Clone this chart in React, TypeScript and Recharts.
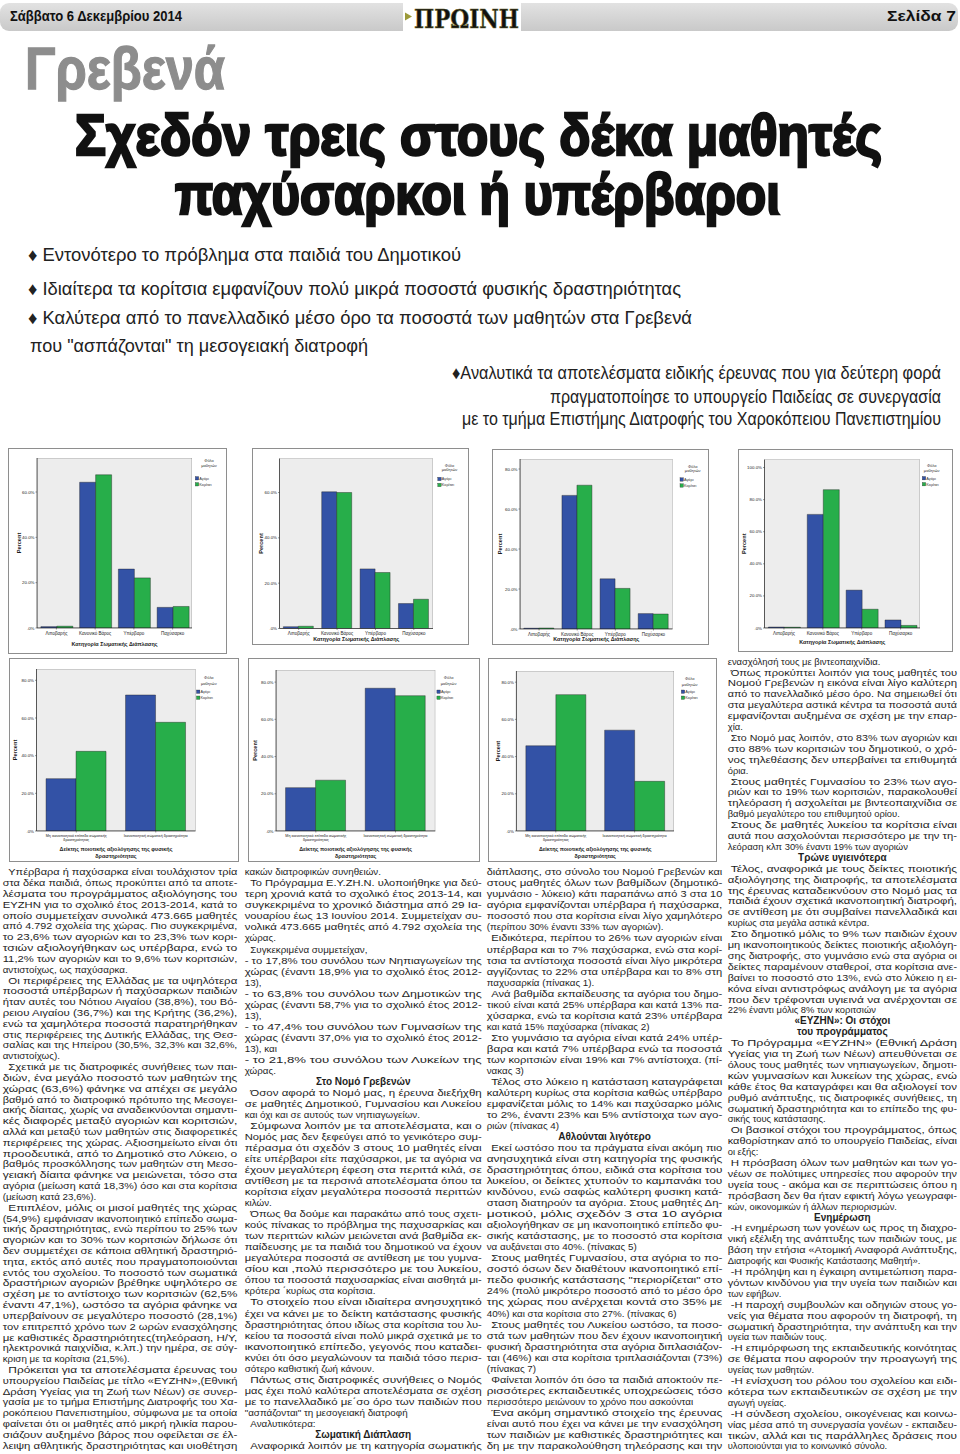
import React from 'react';
import { BarChart, Bar, XAxis, YAxis, CartesianGrid, Legend, ReferenceArea } from 'recharts';

const BLUE = '#3352a6';
const GREEN = '#27ae4a';
const FONT = '"Liberation Sans", Arial, Helvetica, sans-serif';

// ---------- chart data ----------
const bodyCategories = ['Λιποβαρής', 'Κανονικό Βάρος', 'Υπέρβαρο', 'Παχύσαρκο'];
const allBoys = [0.6, 64.3, 26.0, 9.1];
const allGirls = [0.8, 67.6, 22.1, 9.5];
const primBoys = [0.8, 60.3, 26.3, 11.0];
const primGirls = [1.0, 60.0, 24.7, 12.9];
const gymBoys = [0.4, 66.8, 25.1, 7.7];
const gymGirls = [0.5, 71.9, 20.3, 7.5];
const lycBoys = [0.6, 70.8, 23.6, 5.0];
const lycGirls = [0.5, 86.2, 11.7, 1.6];

const activityCategories = [
  'Μη ικανοποιητικό επίπεδο σωματικής δραστηριότητας',
  'Ικανοποιητική σωματική δραστηριότητα',
];
const actPrimBoys = [27.8, 72.2];
const actPrimGirls = [42.3, 57.7];
const actGymBoys = [23.3, 76.7];
const actGymGirls = [27.3, 72.7];
const actLycBoys = [45.8, 54.2];
const actLycGirls = [73.3, 26.7];

const ticks75 = [0, 20, 40, 60];
const ticks85 = [0, 20, 40, 60, 80];
const ticks105 = [0, 20, 40, 60, 80, 100];

const seriesNames = ['Αγόρι', 'Κορίτσι'];
const legendTitle = ['Φύλο', 'μαθητών'];
const bodyAxisTitle = ['Κατηγορία Σωματικής Διάπλασης'];
const activityAxisTitle = ['Δείκτης ποιοτικής αξιολόγησης της φυσικής', 'δραστηριότητας'];

const titleAll = 'Νομός: ΓΡΕΒΕΝΩΝ';
const titlePrim = 'Νομός: ΓΡΕΒΕΝΩΝ, Τύπος Σχολείου: Δημοτικό';
const titleGym = 'Νομός: ΓΡΕΒΕΝΩΝ, Τύπος Σχολείου: Γυμνάσιο';
const titleLyc = 'Νομός: ΓΡΕΒΕΝΩΝ, Τύπος Σχολείου: Λύκειο';

type Row = { cat: string; boys: number; girls: number };
const makeRows = (cats: string[], b: number[], g: number[]): Row[] =>
  cats.map((cat, i) => ({ cat, boys: b[i], girls: g[i] }));

type Cfg = {
  fx: number; fy: number; fw: number; fh: number;
  pl: number; pr: number; pt: number; pb: number;
  yMax: number; ticks: number[];
  title: string; titleCx: number; titleY: number;
  tickY: number; tickFs: number;
  xTitle: string[]; xTitleY: number[];
  yLabX: number;
  legTx: number; legTy: number[]; legSx: number; legSy: number[];
  data: Row[]; gap: string;
};

const charts: Cfg[] = [
  {
    fx: 8, fy: 448, fw: 219, fh: 206, pl: 37, pr: 192, pt: 458, pb: 628,
    yMax: 75, ticks: ticks75, title: titleAll, titleCx: 115, titleY: 455.7,
    tickY: 633.5, tickFs: 4.5, xTitle: bodyAxisTitle, xTitleY: [644.3], yLabX: 18.5,
    legTx: 209, legTy: [461, 465.7], legSx: 197, legSy: [478.3, 484.3],
    data: makeRows(bodyCategories, allBoys, allGirls), gap: '10%',
  },
  {
    fx: 252, fy: 448, fw: 217, fh: 197, pl: 279.5, pr: 433, pt: 458.5, pb: 628.5,
    yMax: 75, ticks: ticks75, title: titlePrim, titleCx: 371.5, titleY: 455.7,
    tickY: 633, tickFs: 4.5, xTitle: bodyAxisTitle, xTitleY: [638.6], yLabX: 261,
    legTx: 449.5, legTy: [465.7, 470], legSx: 439.5, legSy: [479, 485],
    data: makeRows(bodyCategories, primBoys, primGirls), gap: '10%',
  },
  {
    fx: 492, fy: 448.5, fw: 216.5, fh: 196, pl: 520, pr: 672.5, pt: 458.5, pb: 628.5,
    yMax: 85, ticks: ticks85, title: titleGym, titleCx: 614, titleY: 455.7,
    tickY: 633.5, tickFs: 4.5, xTitle: bodyAxisTitle, xTitleY: [638.8], yLabX: 500,
    legTx: 692.7, legTy: [465.7, 470], legSx: 681.7, legSy: [479, 485],
    data: makeRows(bodyCategories, gymBoys, gymGirls), gap: '10%',
  },
  {
    fx: 738, fy: 448.5, fw: 215, fh: 203.5, pl: 764.5, pr: 920, pt: 459, pb: 627.5,
    yMax: 105, ticks: ticks105, title: titleLyc, titleCx: 855, titleY: 455.7,
    tickY: 633.3, tickFs: 4.5, xTitle: bodyAxisTitle, xTitleY: [641.7], yLabX: 743.5,
    legTx: 931.7, legTy: [465, 470], legSx: 924, legSy: [477.7, 483.7],
    data: makeRows(bodyCategories, lycBoys, lycGirls), gap: '10%',
  },
  {
    fx: 8.5, fy: 658, fw: 230, fh: 204, pl: 36, pr: 195, pt: 669, pb: 831,
    yMax: 86, ticks: ticks85, title: titlePrim, titleCx: 131, titleY: 666.7,
    tickY: 835.3, tickFs: 3.7, xTitle: activityAxisTitle, xTitleY: [849.3, 856.3], yLabX: 14.5,
    legTx: 208.3, legTy: [677.3, 684], legSx: 197.7, legSy: [691.7, 697.7],
    data: makeRows(activityCategories, actPrimBoys, actPrimGirls), gap: '12%',
  },
  {
    fx: 247.7, fy: 658, fw: 232, fh: 204, pl: 275.7, pr: 435, pt: 670, pb: 831,
    yMax: 86.5, ticks: ticks85, title: titleGym, titleCx: 372.3, titleY: 666.7,
    tickY: 835.3, tickFs: 3.7, xTitle: activityAxisTitle, xTitleY: [849.3, 856.3], yLabX: 254.3,
    legTx: 448.3, legTy: [677.3, 684], legSx: 438.3, legSy: [691.7, 697.7],
    data: makeRows(activityCategories, actGymBoys, actGymGirls), gap: '12%',
  },
  {
    fx: 488.3, fy: 658, fw: 228.4, fh: 204, pl: 516.7, pr: 674.3, pt: 671, pb: 831,
    yMax: 86, ticks: ticks85, title: titleLyc, titleCx: 617.3, titleY: 668.3,
    tickY: 835.3, tickFs: 3.7, xTitle: activityAxisTitle, xTitleY: [849.3, 856.3], yLabX: 498.3,
    legTx: 690, legTy: [679, 684.3], legSx: 683.3, legSy: [691.7, 697.7],
    data: makeRows(activityCategories, actLycBoys, actLycGirls), gap: '12%',
  },
];

function wrapLabel(s: string, max: number): string[] {
  const words = s.split(' ');
  const out: string[] = [];
  let cur = '';
  for (const w of words) {
    const t = cur ? cur + ' ' + w : w;
    if (t.length > max && cur) { out.push(cur); cur = w; } else cur = t;
  }
  if (cur) out.push(cur);
  return out;
}

const pctFmt = (v: number) => (v === 0 ? '.0%' : `${v.toFixed(1)}%`);

function SpssChart({ c }: { c: Cfg }) {
  const ox = c.fx + 1;
  const oy = c.fy + 1;
  const w = c.fw - 2;
  const h = c.fh - 2;
  const yW = c.pl - ox;
  const mRight = ox + w - c.pr;
  const mTop = c.pt - oy;
  const xH = oy + h - c.pb;
  const plotMidY = (c.pt + c.pb) / 2 - oy;
  return (
    <div style={{ position: 'absolute', left: c.fx, top: c.fy, width: c.fw, height: c.fh, border: '1px solid #8e8e8e', boxSizing: 'border-box', background: '#fff' }}>
      <BarChart width={w} height={h} data={c.data} margin={{ top: mTop, right: mRight, bottom: 0, left: 0 }} barCategoryGap={c.gap} barGap={0}>
        <CartesianGrid fill="#ececec" fillOpacity={1} stroke="#ececec" strokeOpacity={0} horizontal vertical={false} />
        <ReferenceArea y1={0} y2={c.yMax} fill="#ededed" fillOpacity={1} stroke="#666" strokeWidth={0.5} ifOverflow="hidden" />
        <XAxis
          dataKey="cat" height={xH} interval={0} tickSize={1.5}
          tickLine={{ stroke: '#333', strokeWidth: 0.5 }}
          axisLine={{ stroke: '#222', strokeWidth: 0.7 }}
          tick={(p: any) => {
            const lines = wrapLabel(String(p.payload.value), 36);
            return (
              <text x={p.x} y={c.tickY - oy + c.tickFs * 0.35} textAnchor="middle" fontSize={c.tickFs} fill="#222" fontFamily={FONT}>
                {lines.map((l, i) => (
                  <tspan key={i} x={p.x} dy={i === 0 ? 0 : c.tickFs * 1.15}>{l}</tspan>
                ))}
              </text>
            );
          }}
          label={{
            content: () => (
              <text textAnchor="middle" fontSize={5.4} fontWeight="bold" fill="#1a1a1a" fontFamily={FONT}>
                {c.xTitle.map((t, i) => (
                  <tspan key={i} x={(c.pl + c.pr) / 2 - ox} y={c.xTitleY[i] - oy + 1.9}>{t}</tspan>
                ))}
              </text>
            ),
          }}
        />
        <XAxis
          xAxisId="top" dataKey="cat" orientation="top" height={0} tick={false} tickLine={false}
          axisLine={{ stroke: '#555', strokeWidth: 0.5 }}
          label={{
            content: () => (
              <text x={c.titleCx - ox} y={c.titleY - oy + 1.8} textAnchor="middle" fontSize={5} fontWeight="bold" fill="#1a1a1a" fontFamily={FONT}>
                {c.title}
              </text>
            ),
          }}
        />
        <YAxis
          width={yW} domain={[0, c.yMax]} ticks={c.ticks} allowDataOverflow interval={0}
          tickFormatter={pctFmt} tickSize={1.5} tickMargin={1}
          tick={{ fontSize: 4.4, fill: '#222', fontFamily: FONT }}
          tickLine={{ stroke: '#333', strokeWidth: 0.5 }}
          axisLine={{ stroke: '#222', strokeWidth: 0.7 }}
          label={{
            content: () => (
              <text
                x={c.yLabX - ox} y={plotMidY}
                transform={`rotate(-90 ${c.yLabX - ox} ${plotMidY})`}
                textAnchor="middle" dominantBaseline="central"
                fontSize={5.6} fontWeight="bold" fill="#1a1a1a" fontFamily={FONT}
              >
                Percent
              </text>
            ),
          }}
        />
        <YAxis yAxisId="r" orientation="right" width={0} domain={[0, c.yMax]} allowDataOverflow tick={false} tickLine={false} axisLine={{ stroke: '#555', strokeWidth: 0.5 }} />
        <Legend
          layout="vertical" align="center" verticalAlign="middle"
          wrapperStyle={{ left: 0, top: 0, width: w, height: h, pointerEvents: 'none' }}
          content={(lp: any) => (
            <svg width={w} height={h} style={{ display: 'block' }}>
              {legendTitle.map((t, i) => (
                <text key={t} x={c.legTx - ox} y={c.legTy[i] - oy + 1.4} textAnchor="middle" fontSize={4} fill="#333" fontFamily={FONT}>{t}</text>
              ))}
              {(lp.payload || []).map((it: any, i: number) => (
                <g key={i}>
                  <rect x={c.legSx - ox - 1.7} y={c.legSy[i] - oy - 1.7} width={3.4} height={3.4} fill={it.color} stroke="#222" strokeWidth={0.3} />
                  <text x={c.legSx - ox + 2.3} y={c.legSy[i] - oy + 1.4} fontSize={3.8} fill="#333" fontFamily={FONT}>{it.value}</text>
                </g>
              ))}
            </svg>
          )}
        />
        <Bar dataKey="boys" name={seriesNames[0]} fill={BLUE} stroke="#1c1c1c" strokeWidth={0.4} isAnimationActive={false} />
        <Bar dataKey="girls" name={seriesNames[1]} fill={GREEN} stroke="#1c1c1c" strokeWidth={0.4} isAnimationActive={false} />
      </BarChart>
    </div>
  );
}

// ---------- page text ----------
const bullets = [
  { t: '♦ Εντονότερο το πρόβλημα στα παιδιά του Δημοτικού', x: 28, y: 261, w: 433 },
  { t: '♦ Ιδιαίτερα τα κορίτσια εμφανίζουν πολύ μικρά ποσοστά φυσικής δραστηριότητας', x: 28, y: 295, w: 653 },
  { t: '♦ Καλύτερα από το πανελλαδικό μέσο όρο τα ποσοστά των μαθητών στα Γρεβενά', x: 28, y: 324, w: 664 },
  { t: 'που "ασπάζονται" τη μεσογειακή διατροφή', x: 30, y: 352, w: 338 },
  { t: '♦Αναλυτικά τα αποτελέσματα ειδικής έρευνας που για δεύτερη φορά', x: 452, y: 379, w: 489 },
  { t: 'πραγματοποίησε το υπουργείο Παιδείας σε συνεργασία', x: 550, y: 403, w: 391 },
  { t: 'με το τμήμα Επιστήμης Διατροφής του Χαροκόπειου Πανεπιστημίου', x: 462, y: 425, w: 479 },
];

// ¶ = indented paragraph start, ¬ = paragraph start without indent, # = centered bold heading
const col1 = [
  '¶Υπέρβαρα ή παχύσαρκα είναι τουλάχιστον τρία',
  'στα δέκα παιδιά, όπως προκύπτει από τα αποτε-',
  'λέσματα του προγράμματος αξιολόγησης του',
  'ΕΥΖΗΝ για το σχολικό έτος 2013-2014, κατά το',
  'οποίο συμμετείχαν συνολικά 473.665 μαθητές',
  'από 4.792 σχολεία της χώρας. Πιο συγκεκριμένα,',
  'το 23,6% των αγοριών και το 23,3% των κορι-',
  'τσιών αξιολογήθηκαν ως υπέρβαρα, ενώ το',
  '11,2% των αγοριών και το 9,6% των κοριτσιών,',
  'αντιστοίχως, ως παχύσαρκα.',
  '¶Οι περιφέρειες της Ελλάδας με τα υψηλότερα',
  'ποσοστά υπέρβαρων ή παχύσαρκων παιδιών',
  'ήταν αυτές του Νότιου Αιγαίου (38,8%), του Βό-',
  'ρειου Αιγαίου (36,7%) και της Κρήτης (36,2%),',
  'ενώ τα χαμηλότερα ποσοστά παρατηρήθηκαν',
  'στις περιφέρειες της Δυτικής Ελλάδας, της Θεσ-',
  'σαλίας και της Ηπείρου (30,5%, 32,3% και 32,6%,',
  'αντιστοίχως).',
  '¶Σχετικά με τις διατροφικές συνήθειες των παι-',
  'διών, ένα μεγάλο ποσοστό των μαθητών της',
  'χώρας (63,6%) φάνηκε να απέχει σε μεγάλο',
  'βαθμό από το διατροφικό πρότυπο της Μεσογει-',
  'ακής δίαιτας, χωρίς να αναδεικνύονται σημαντι-',
  'κές διαφορές μεταξύ αγοριών και κοριτσιών,',
  'αλλά και μεταξύ των μαθητών στις διαφορετικές',
  'περιφέρειες της χώρας. Αξιοσημείωτο είναι ότι',
  'προοδευτικά, από το Δημοτικό στο Λύκειο, ο',
  'βαθμός προσκόλλησης των μαθητών στη Μεσο-',
  'γειακή δίαιτα φάνηκε να μειώνεται, τόσο στα',
  'αγόρια (μείωση κατά 18,3%) όσο και στα κορίτσια',
  '(μείωση κατά 23,6%).',
  '¶Επιπλέον, μόλις οι μισοί μαθητές της χώρας',
  '(54,9%) εμφάνισαν ικανοποιητικό επίπεδο σωμα-',
  'τικής δραστηριότητας, ενώ περίπου το 25% των',
  'αγοριών και το 30% των κοριτσιών δήλωσε ότι',
  'δεν συμμετέχει σε κάποια αθλητική δραστηριό-',
  'τητα, εκτός από αυτές που πραγματοποιούνται',
  'εντός του σχολείου. Το ποσοστό των σωματικά',
  'δραστήριων αγοριών βρέθηκε υψηλότερο σε',
  'σχέση με το αντίστοιχο των κοριτσιών (62,5%',
  'έναντι 47,1%), ωστόσο τα αγόρια φάνηκε να',
  'υπερβαίνουν σε μεγαλύτερο ποσοστό (28,1%)',
  'τον επιτρεπτό χρόνο των 2 ωρών ενασχόλησης',
  'με καθιστικές δραστηριότητες(τηλεόραση, Η/Υ,',
  'ηλεκτρονικά παιχνίδια, κ.λπ.) την ημέρα, σε σύγ-',
  'κριση με τα κορίτσια (21,5%).',
  '¶Πρόκειται για τα αποτελέσματα έρευνας του',
  'υπουργείου Παιδείας με τίτλο «ΕΥΖΗΝ»,(Εθνική',
  'Δράση Υγείας για τη Ζωή των Νέων) σε συνερ-',
  'γασία με το τμήμα Επιστήμης Διατροφής του Χα-',
  'ροκόπειου Πανεπιστημίου, σύμφωνα με τα οποία',
  'φαίνεται ότι οι μαθητές από μικρή ηλικία παρου-',
  'σιάζουν αυξημένο βάρος που οφείλεται σε έλ-',
  'λειψη αθλητικής δραστηριότητας και υιοθέτηση',
];

const col2 = [
  'κακών διατροφικών συνηθειών.',
  '¶Το Πρόγραμμα Ε.Υ.ΖΗ.Ν. υλοποιήθηκε για δεύ-',
  'τερη χρονιά κατά το σχολικό έτος 2013-14, και',
  'συγκεκριμένα το χρονικό διάστημα από 29 Ια-',
  'νουαρίου έως 13 Ιουνίου 2014. Συμμετείχαν συ-',
  'νολικά 473.665 μαθητές από 4.792 σχολεία της',
  'χώρας.',
  '¶Συγκεκριμένα συμμετείχαν,',
  '¬ - το 17,8% του συνόλου των Νηπιαγωγείων της',
  'χώρας (έναντι 18,9% για το σχολικό έτος 2012-',
  '13),',
  '¬ - το 63,8% του συνόλου των Δημοτικών της',
  'χώρας (έναντι 58,7% για το σχολικό έτος 2012-',
  '13),',
  '¬ - το 47,4% του συνόλου των Γυμνασίων της',
  'χώρας (έναντι 37,0% για το σχολικό έτος 2012-',
  '13), και',
  '¬ - το 21,8% του συνόλου των Λυκείων της',
  'χώρας.',
  '#Στο Νομό Γρεβενών',
  '¶Όσον αφορά το Νομό μας, η έρευνα διεξήχθη',
  'σε μαθητές Δημοτικού, Γυμνασίου και Λυκείου',
  'και όχι και σε αυτούς των νηπιαγωγείων.',
  '¶Σύμφωνα λοιπόν με τα αποτελέσματα, και ο',
  'Νομός μας δεν ξεφεύγει από το γενικότερο συμ-',
  'πέρασμα ότι σχεδόν 3 στους 10 μαθητές είναι',
  'είτε υπέρβαροι είτε παχύσαρκοι, με τα αγόρια να',
  'έχουν μεγαλύτερη έφεση στα περιττά κιλά, σε',
  'αντίθεση με τα περσινά αποτελέσματα όπου τα',
  'κορίτσια είχαν μεγαλύτερα ποσοστά περιττών',
  'κιλών.',
  '¶Όπως θα δούμε και παρακάτω από τους σχετι-',
  'κούς πίνακας το πρόβλημα της παχυσαρκίας και',
  'των περιττών κιλών μειώνεται ανά βαθμίδα εκ-',
  'παίδευσης με τα παιδιά του δημοτικού να έχουν',
  'μεγαλύτερα ποσοστά σε αντίθεση με του γυμνα-',
  'σίου και ,πολύ περισσότερο με του λυκείου,',
  'όπου τα ποσοστά παχυσαρκίας είναι αισθητά μι-',
  'κρότερα ΄κυρίως στα κορίτσια.',
  '¶Το στοιχείο που είναι ιδιαίτερα ανησυχητικό',
  'έχει να κάνει με το δείκτη κατάστασης φυσικής',
  'δραστηριότητας όπου ιδίως στα κορίτσια του λυ-',
  'κείου τα ποσοστά είναι πολύ μικρά σχετικά με το',
  'ικανοποιητικό επίπεδο, γεγονός που καταδει-',
  'κνύει ότι όσο μεγαλώνουν τα παιδιά τόσο περισ-',
  'σότερο καθιστική ζωή κάνουν.',
  '¶Πάντως στις διατροφικές συνήθειες ο Νομός',
  'μας έχει πολύ καλύτερα αποτελέσματα σε σχέση',
  'με το πανελλαδικό με΄σο όρο των παιδιών που',
  '"ασπάζονται" τη μεσογειακή διατροφή',
  '¶Αναλυτικότερα:',
  '#Σωματική Διάπλαση',
  '¶Αναφορικά λοιπόν με τη κατηγορία σωματικής',
];

const col3 = [
  'διάπλασης, στο σύνολο του Νομού Γρεβενών και',
  'στους μαθητές όλων των βαθμίδων (δημοτικό-',
  'γυμνάσιο - λύκειο) κάτι παραπάνω από 3 στα 10',
  'αγόρια εμφανίζονται υπέρβαρα ή παχύσαρκα,',
  'ποσοστό που στα κορίτσια είναι λίγο χαμηλότερο',
  '(περίπου 30% έναντι 33% των αγοριών).',
  '¶ Ειδικότερα, περίπου το 26% των αγοριών είναι',
  'υπέρβαρα και το 7% παχύσαρκα, ενώ στα κορί-',
  'τσια τα αντίστοιχα ποσοστά είναι λίγο μικρότερα',
  'αγγίζοντας το 22% στα υπέρβαρα και το 8% στη',
  'παχυσαρκία (πίνακας 1).',
  '¶Ανά βαθμίδα εκπαίδευσης τα αγόρια του δημο-',
  'τικού είναι κατά 25% υπέρβαρα και κατά 13% πα-',
  'χύσαρκα, ενώ τα κορίτσια κατά 23% υπέρβαρα',
  'και κατά 15% παχύσαρκα (πίνακας 2)',
  '¶Στο γυμνάσιο τα αγόρια είναι κατά 24% υπέρ-',
  'βαρα και κατά 7% υπέρβαρα ενώ τα ποσοστά',
  'των κοριτσιών είναι 19% και 7% αντίστοιχα. (πί-',
  'νακας 3)',
  '¶Τέλος στο λύκειο η κατάσταση καταγράφεται',
  'καλύτερη κυρίως στα κορίτσια καθώς υπέρβαρο',
  'εμφανίζεται μόλις το 14% και παχύσαρκο μόλις',
  'το 2%, έναντι 23% και 5% αντίστοιχα των αγο-',
  'ριών (πίνακας 4)',
  '#Αθλούνται λιγότερο',
  '¶Εκεί ωστόσο που τα πράγματα είναι ακόμη πιο',
  'ανησυχητικά είναι στη κατηγορία της φυσικής',
  'δραστηριότητας όπου, ειδικά στα κορίτσια του',
  'λυκείου, οι δείκτες χτυπούν το καμπανάκι του',
  'κινδύνου, ενώ σαφώς καλύτερη φυσικη κατά-',
  'σταση διατηρούν τα αγόρια. Στους μαθητές Δη-',
  'μοτικού, μόλις σχεδόν 3 στα 10 αγόρια',
  'αξιολογήθηκαν σε μη ικανοποιητικό επίπεδο φυ-',
  'σικής κατάστασης, με το ποσοστό στα κορίτσια',
  'να αυξάνεται στο 40%. (πίνακας 5)',
  '¶Στους μαθητές Γυμνασίου, στα αγόρια το πο-',
  'σοστό όσων δεν διαθέτουν ικανοποιητικό επί-',
  'πεδο φυσικής κατάστασης "περιορίζεται" στο',
  '24% (πολύ μικρότερο ποσοστό από το μέσο όρο',
  'της χώρας που ανέρχεται κοντά στο 35% με',
  '40%) και στα κορίτσια στο 27%. (πίνακας 6)',
  '¶Στους μαθητές του Λυκείου ωστόσο, τα ποσο-',
  'στά των μαθητών που δεν έχουν ικανοποιητική',
  'φυσική δραστηριότητα στα αγόρια διπλασιάζον-',
  'ται (46%) και στα κορίτσια τριπλασιάζονται (73%)',
  '(πίνακας 7)',
  '¶Φαίνεται λοιπόν ότι όσο τα παιδιά αποκτούν πε-',
  'ρισσότερες εκπαιδευτικές υποχρεώσεις τόσο',
  'περισσότερο μειώνουν το χρόνο που ασκούνται',
  '¶Ένα ακόμη σημαντικό στοιχείο της έρευνας',
  'είναι αυτό που έχει να κάνει με την ενασχόληση',
  'των παιδιών με καθιστικές δραστηριότητες και',
  'δη με την παρακολούθηση τηλεόρασης και την',
];

const col4 = [
  'ενασχόλησή τους με βιντεοπαιχνίδια.',
  '¶Όπως προκύπτει λοιπόν για τους μαθητές του',
  'Νομού Γρεβενών η εικόνα είναι λίγο καλύτερη',
  'από το πανελλαδικό μέσο όρο. Να σημειωθεί ότι',
  'στα μεγαλύτερα αστικά κέντρα τα ποσοστά αυτά',
  'εμφανίζονται αυξημένα σε σχέση με την επαρ-',
  'χία.',
  '¶Στο Νομό μας λοιπόν, στο 83% των αγοριών και',
  'στο 88% των κοριτσιών του δημοτικού, ο χρό-',
  'νος τηλεθέασης δεν υπερβαίνει τα επιθυμητά',
  'όρια.',
  '¶ Στους μαθητές Γυμνασίου το 23% των αγο-',
  'ριών και το 19% των κοριτσιών, παρακολουθεί',
  'τηλεόραση ή ασχολείται με βιντεοπαιχνίδια σε',
  'βαθμό μεγαλύτερο του επιθυμητού ορίου.',
  '¶Στους δε μαθητές λυκείου τα κορίτσια είναι',
  'αυτά που ασχολούνται περισσότερο με την τη-',
  'λεόραση κλπ 30% έναντι 19% των αγοριών',
  '#Τρώνε υγιεινότερα',
  '¶Τέλος, αναφορικά με τους δείκτες ποιοτικής',
  'αξιολόγησης της διατροφής, τα αποτελέσματα',
  'της έρευνας καταδεικνύουν στο Νομό μας τα',
  'παιδιά έχουν σχετικά ικανοποιητική διατροφή,',
  'σε αντίθεση με ότι συμβαίνει πανελλαδικά και',
  'κυρίως στα μεγάλα αστικά κέντρα.',
  '¶Στο δημοτικό μόλις το 9% των παιδιών έχουν',
  'μη ικανοποιητικούς δείκτες ποιοτικής αξιολόγη-',
  'σης διατροφής, στο γυμνάσιο ενώ στα αγόρια οι',
  'δείκτες παραμένουν σταθεροί, στα κορίτσια ανε-',
  'βαίνει το ποσοστό στο 13%, ενώ στο λύκειο η ει-',
  'κόνα είναι αντιστρόφως ανάλογη με τα αγόρια',
  'που δεν τρέφονται υγιεινά να ανέρχονται σε',
  '22% έναντι μόλις 8% των κοριτσιών',
  '#«ΕΥΖΗΝ»: Οι στόχοι',
  '#του προγράμματος',
  '¶Το Πρόγραμμα «ΕΥΖΗΝ» (Εθνική Δράση',
  'Υγείας για τη Ζωή των Νέων) απευθύνεται σε',
  'όλους τους μαθητές των νηπιαγωγείων, δημοτι-',
  'κών γυμνασίων και λυκείων της χώρας, ενώ',
  'κάθε έτος θα καταγράφει και θα αξιολογεί τον',
  'ρυθμό ανάπτυξης, τις διατροφικές συνήθειες, τη',
  'σωματική δραστηριότητα και το επίπεδο της φυ-',
  'σικής τους κατάστασης.',
  '¶ Οι βασικοί στόχοι του προγράμματος, όπως',
  'καθορίστηκαν από το υπουργείο Παιδείας, είναι',
  'οι εξής:',
  '¶Η πρόσβαση όλων των μαθητών και των γο-',
  'νέων σε πολύτιμες υπηρεσίες που αφορούν την',
  'υγεία τους - ακόμα και σε περιπτώσεις όπου η',
  'πρόσβαση δεν θα ήταν εφικτή λόγω γεωγραφι-',
  'κών, οικονομικών ή άλλων περιορισμών.',
  '#Ενημέρωση',
  '¶-Η ενημέρωση των γονέων ως προς τη διαχρο-',
  'νική εξέλιξη της ανάπτυξης των παιδιών τους, με',
  'βάση την ετήσια «Ατομική Αναφορά Ανάπτυξης,',
  'Διατροφής και Φυσικής Κατάστασης Μαθητή».',
  '¶-Η πρόληψη και η έγκαιρη αντιμετώπιση παρα-',
  'γόντων κινδύνου για την υγεία των παιδιών και',
  'των εφήβων.',
  '¶-Η παροχή συμβουλών και οδηγιών στους γο-',
  'νείς για θέματα που αφορούν τη διατροφή, τη',
  'σωματική δραστηριότητα, την ανάπτυξη και την',
  'υγεία των παιδιών τους.',
  '¶-Η επιμόρφωση της εκπαιδευτικής κοινότητας',
  'σε θέματα που αφορούν την προαγωγή της',
  'υγείας των μαθητών.',
  '¶-Η ενίσχυση του ρόλου του σχολείου και ειδι-',
  'κότερα των εκπαιδευτικών σε σχέση με την',
  'αγωγή υγείας.',
  '¶-Η σύνδεση σχολείου, οικογένειας και κοινω-',
  'νίας μέσα από τη συνεργασία γονέων - εκπαιδευ-',
  'τικών, αλλά και τις παράλληλες δράσεις που',
  'υλοποιούνται για το κοινωνικό σύνολο.',
];

const columns = [
  { lines: col1, x0: 2.7, x1: 237.3, y0: 875.3, lh: 10.82, indent: 5.6, lastJustified: true, fs: 9.8 },
  { lines: col2, x0: 244.7, x1: 481.7, y0: 875.3, lh: 11.03, indent: 5.6, lastJustified: true, fs: 9.8 },
  { lines: col3, x0: 486.7, x1: 722.3, y0: 875.3, lh: 11.03, indent: 4.5, lastJustified: true, fs: 9.8 },
  { lines: col4, x0: 727.7, x1: 957, y0: 664.6, lh: 10.9, indent: 3, lastJustified: false, fs: 9.4 },
];

const isStart = (s?: string) => !!s && (s[0] === '¶' || s[0] === '¬' || s[0] === '#');

function Column({ col }: { col: typeof columns[number] }) {
  const { lines, x0, x1, y0, lh, indent, lastJustified, fs } = col;
  const sy = 9.9 / fs;
  return (
    <g fontFamily={FONT} fill="#1e1e1e">
      {lines.map((raw, i) => {
        const y = y0 + i * lh;
        const tag = raw[0];
        if (tag === '#') {
          return (
            <text key={i} x={(x0 + x1) / 2} y={y} textAnchor="middle" fontSize={10} fontWeight="bold">{raw.slice(1)}</text>
          );
        }
        const s = tag === '¶' || tag === '¬' ? raw.slice(1) : raw;
        const xs = tag === '¶' ? x0 + indent : x0;
        const next = lines[i + 1];
        const justify = next === undefined ? lastJustified : !isStart(next);
        const tr = `translate(${xs} ${y}) scale(1 ${sy})`;
        return justify ? (
          <text key={i} transform={tr} x={0} y={0} fontSize={fs} textLength={x1 - xs} lengthAdjust="spacingAndGlyphs">{s}</text>
        ) : (
          <text key={i} transform={tr} x={0} y={0} fontSize={fs}>{s}</text>
        );
      })}
    </g>
  );
}

type StretchProps = { x: number; y: number; fs: number; sy: number; w: number; fill: string; bold?: boolean; stroke?: number; family?: string; children: string };
function Stretch({ x, y, fs, sy, w, fill, bold, stroke, family, children }: StretchProps) {
  return (
    <text
      transform={`translate(${x} ${y}) scale(1 ${sy})`} x={0} y={0}
      fontFamily={family || FONT} fontSize={fs} fontWeight={bold ? 'bold' : 'normal'}
      fill={fill} stroke={stroke ? fill : undefined} strokeWidth={stroke}
      textLength={w} lengthAdjust="spacingAndGlyphs"
    >
      {children}
    </text>
  );
}

export default function App() {
  return (
    <div style={{ position: 'absolute', left: 0, top: 0, width: 960, height: 1454, overflow: 'hidden', background: '#fff' }}>
      <svg width={960} height={1454} style={{ position: 'absolute', left: 0, top: 0 }}>
        <defs>
          <linearGradient id="hdr" x1="0" y1="0" x2="0" y2="1">
            <stop offset="0" stopColor="#e2e2e2" />
            <stop offset="1" stopColor="#c9c9c9" />
          </linearGradient>
        </defs>
        {/* header */}
        <rect x={0} y={3} width={958} height={28} rx={9} fill="url(#hdr)" />
        <Stretch x={10} y={20.5} fs={13.5} sy={1.1} w={172} fill="#111" bold>Σάββατο 6 Δεκεμβρίου 2014</Stretch>
        <Stretch x={887} y={21} fs={13.5} sy={1.1} w={69} fill="#111" bold>Σελίδα 7</Stretch>
        <rect x={403} y={0} width={118} height={33} fill="#fff" />
        <polygon points="405,12.5 412,16.5 405,20.5" fill="#9c9a3a" />
        <text transform="translate(414 28) scale(1 1.25)" x={0} y={0} fontFamily='"DejaVu Serif", serif' fontSize={21.5} fontWeight="bold" fill="#111" stroke="#6f6a2a" strokeWidth={0.5} textLength={105} lengthAdjust="spacingAndGlyphs">ΠΡΩΙΝΗ</text>

        {/* headline */}
        <Stretch x={25} y={89} fs={52} sy={1.15} w={200} fill="#8d8d8d" bold stroke={1.1}>Γρεβενά</Stretch>
        <Stretch x={75} y={155} fs={50} sy={1.14} w={807} fill="#111" bold stroke={2.3}>Σχεδόν τρεις στους δέκα μαθητές</Stretch>
        <Stretch x={175} y={214} fs={50} sy={1.14} w={605} fill="#111" bold stroke={2.3}>παχύσαρκοι ή υπέρβαροι</Stretch>

        {/* bullets */}
        {bullets.map((b, i) => (
          <Stretch key={i} x={b.x} y={b.y} fs={15.5} sy={1.16} w={b.w} fill="#222">{b.t}</Stretch>
        ))}

        {/* body text */}
        {columns.map((c, i) => (
          <Column key={i} col={c} />
        ))}
      </svg>
      {charts.map((c, i) => (
        <SpssChart key={i} c={c} />
      ))}
    </div>
  );
}
